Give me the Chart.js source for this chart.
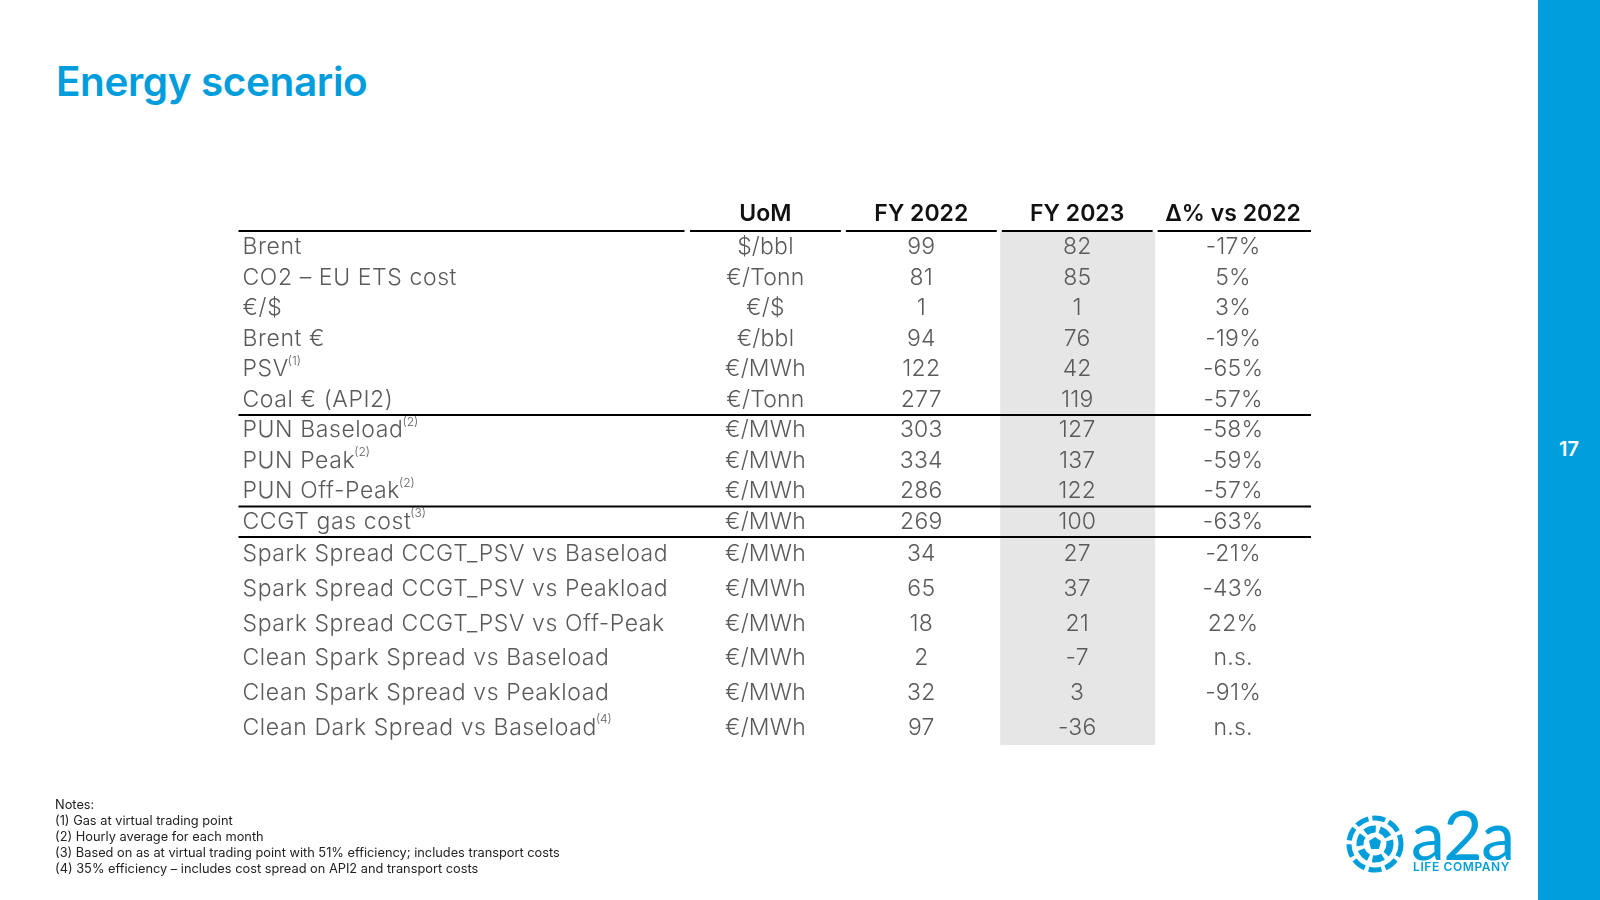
<!DOCTYPE html>
<html lang="en">
<head>
<meta charset="utf-8">
<title>Energy scenario</title>
<script src="https://cdn.jsdelivr.net/npm/chart.js@4.4.1/dist/chart.umd.min.js"></script>
<style>
    html, body { margin: 0; padding: 0; background: #fff; }
    body { width: 1600px; height: 900px; position: relative; overflow: hidden; font-family: Inter, 'Noto Sans', sans-serif; }
    #titulo { position: absolute; left: 56px; top: 56px; margin: 0; font-size: 40.5px; line-height: 52px; font-weight: 600; color: #009ddc; letter-spacing: -0.4px; }
    #tabela { position: absolute; left: 0; top: 0; }
    .faixa { position: absolute; left: 1538px; top: 0; width: 62px; height: 900px; background: #009fdb; }
    .pagina { position: absolute; left: 1538px; width: 62px; top: 436px; text-align: center; color: #fff; font-weight: 600; font-size: 20px; line-height: 26px; }
    .notas { position: absolute; left: 55px; top: 797px; font-size: 12.8px; line-height: 16px; color: #222; }
    .logo { position: absolute; left: 1345px; top: 814px; width: 170px; height: 62px; color: #009fdb; }
    .logo svg { position: absolute; left: 0; top: 0; }
    .logo .marca { position: absolute; left: 66px; top: -14px; font-family: Lato, sans-serif; font-size: 68px; line-height: 68px; letter-spacing: -1.5px; }
    .logo .lema { position: absolute; left: 68px; top: 46px; font-size: 12px; font-weight: 600; letter-spacing: 0.6px; line-height: 14px; }
</style>
</head>
<body>
<h1 id="titulo">Energy scenario</h1>
<canvas id="tabela" width="1600" height="900"></canvas>
<div class="faixa"></div>
<div class="pagina">17</div>
<div class="notas" id="notas"></div>
<div class="logo">
    <svg width="60" height="60" viewBox="0 0 60 60">
        <circle cx="30" cy="30" r="26" fill="none" stroke="#009fdb" stroke-width="5" stroke-dasharray="13 4"/>
        <circle cx="30" cy="30" r="15" fill="none" stroke="#009fdb" stroke-width="7" stroke-dasharray="11 4"/>
        <polygon points="30,23 36,27 34,35 26,35 24,27" fill="#009fdb"/>
    </svg>
    <div class="marca">a2a</div>
    <div class="lema">LIFE COMPANY</div>
</div>
<script>
// Colunas da tabela (eixo x)
const colunas = ['UoM', 'FY 2022', 'FY 2023', 'Δ% vs 2022'];

// Linhas: bloco de preços (em cima) e bloco de spreads (embaixo)
const linhasPrecos = ['Brent', 'CO2 – EU ETS cost', '€/$', 'Brent €', 'PSV', 'Coal € (API2)',
    'PUN Baseload', 'PUN Peak', 'PUN Off-Peak', 'CCGT gas cost'];
const linhasSpreads = ['Spark Spread CCGT_PSV vs Baseload', 'Spark Spread CCGT_PSV vs Peakload',
    'Spark Spread CCGT_PSV vs Off-Peak', 'Clean Spark Spread vs Baseload',
    'Clean Spark Spread vs Peakload', 'Clean Dark Spread vs Baseload'];

// Chamadas de nota ao lado do nome (mesma ordem das linhas)
const chamadasPrecos = ['', '', '', '', '(1)', '', '(2)', '(2)', '(2)', '(3)'];
const chamadasSpreads = ['', '', '', '', '', '(4)'];

// Valores (mesma ordem: preços e depois spreads)
const unidades = ['$/bbl', '€/Tonn', '€/$', '€/bbl', '€/MWh', '€/Tonn', '€/MWh', '€/MWh', '€/MWh', '€/MWh',
    '€/MWh', '€/MWh', '€/MWh', '€/MWh', '€/MWh', '€/MWh'];
const fy2022 = [99, 81, 1, 94, 122, 277, 303, 334, 286, 269, 34, 65, 18, 2, 32, 97];
const fy2023 = [82, 85, 1, 76, 42, 119, 127, 137, 122, 100, 27, 37, 21, -7, 3, -36];
const variacao = [-17, 5, 3, -19, -65, -57, -58, -59, -57, -63, -21, -43, 22, null, -91, null]; // null = n.s.

// Linhas depois das quais vem um traço separador
const separadores = ['Coal € (API2)', 'PUN Off-Peak'];

const notasRodape = [
    'Notes:',
    '(1) Gas at virtual trading point',
    '(2) Hourly average for each month',
    '(3) Based on as at virtual trading point with 51% efficiency; includes transport costs',
    '(4) 35% efficiency – includes cost spread on API2 and transport costs'
];

const CINZA_TEXTO = '#5a5a5a';
const FONTE = "Inter, 'Noto Sans', sans-serif";
const LARGURA_ROTULOS = 449; // coluna dos nomes, à esquerda da área do gráfico

document.addEventListener('DOMContentLoaded', () => {
    document.getElementById('notas').innerHTML = notasRodape.map(n => `<div>${n}</div>`).join('');
    desenharTabela();
});

function montarDatasets() {
    const textos = [
        unidades,
        fy2022.map(v => String(v)),
        fy2023.map(v => String(v)),
        variacao.map(v => v === null ? 'n.s.' : v + '%')
    ];
    const blocos = [
        { eixo: 'yPrecos', linhas: linhasPrecos, inicio: 0 },
        { eixo: 'ySpreads', linhas: linhasSpreads, inicio: linhasPrecos.length }
    ];
    const datasets = [];
    colunas.forEach((col, c) => {
        blocos.forEach(b => {
            datasets.push({
                label: col,
                yAxisID: b.eixo,
                showLine: false,
                pointRadius: 0,
                data: b.linhas.map((linha, i) => ({ x: col, y: linha, texto: textos[c][b.inicio + i] }))
            });
        });
    });
    return datasets;
}

// Plugin que pinta a tabela usando as escalas do Chart.js
const pluginTabela = {
    id: 'tabela',
    beforeDatasetsDraw(chart) {
        const { ctx, chartArea, scales: { x } } = chart;
        const largura = x.getPixelForValue(1) - x.getPixelForValue(0);
        const centro = x.getPixelForValue(colunas.indexOf('FY 2023'));
        ctx.save();
        ctx.fillStyle = '#e6e6e6';
        ctx.fillRect(centro - largura / 2 + 1, chartArea.top, largura - 1, chartArea.bottom - chartArea.top);
        ctx.restore();
    },
    afterDatasetsDraw(chart) {
        const { ctx, chartArea, scales } = chart;
        const x = scales.x;
        const largura = x.getPixelForValue(1) - x.getPixelForValue(0);
        const esquerda = chartArea.left - LARGURA_ROTULOS;

        ctx.save();

        // Cabeçalho
        ctx.fillStyle = '#111';
        ctx.font = `600 23px ${FONTE}`;
        ctx.textAlign = 'center';
        ctx.textBaseline = 'middle';
        x.getLabels().forEach((rotulo, i) => {
            ctx.fillText(rotulo, x.getPixelForValue(i), chartArea.top - 18);
        });

        // Traços do cabeçalho (um por coluna)
        ctx.strokeStyle = '#000';
        ctx.lineWidth = 2;
        const yCab = chartArea.top - 1;
        const tracos = [[esquerda, chartArea.left - 3]];
        x.getLabels().forEach((r, i) => {
            const cx = x.getPixelForValue(i);
            tracos.push([cx - largura / 2 + 2.5, cx + largura / 2 - 2.5]);
        });
        tracos[tracos.length - 1][1] = chartArea.right;
        tracos.forEach(([a, b]) => {
            ctx.beginPath();
            ctx.moveTo(a, yCab);
            ctx.lineTo(b, yCab);
            ctx.stroke();
        });

        // Nomes das linhas com chamadas sobrescritas
        const blocos = [[scales.yPrecos, chamadasPrecos], [scales.ySpreads, chamadasSpreads]];
        ctx.textAlign = 'left';
        ctx.fillStyle = CINZA_TEXTO;
        blocos.forEach(([escala, chamadas]) => {
            escala.getLabels().forEach((nome, i) => {
                const y = escala.getPixelForValue(i);
                ctx.font = `300 23px ${FONTE}`;
                ctx.letterSpacing = '0.6px';
                ctx.fillText(nome, esquerda + 4, y);
                if (chamadas[i]) {
                    const w = ctx.measureText(nome).width;
                    ctx.font = `300 12px ${FONTE}`;
                    ctx.letterSpacing = '0px';
                    ctx.fillText(chamadas[i], esquerda + 4 + w - 1, y - 8);
                }
            });
        });

        // Células
        ctx.textAlign = 'center';
        ctx.font = `300 23px ${FONTE}`;
        ctx.letterSpacing = '0.2px';
        chart.data.datasets.forEach((ds, d) => {
            const meta = chart.getDatasetMeta(d);
            meta.data.forEach((ponto, i) => {
                ctx.fillText(ds.data[i].texto, ponto.x, ponto.y);
            });
        });
        ctx.letterSpacing = '0px';

        // Separadores horizontais
        const linhaCheia = y => {
            ctx.beginPath();
            ctx.moveTo(esquerda, y);
            ctx.lineTo(chartArea.right, y);
            ctx.stroke();
        };
        const yP = scales.yPrecos;
        separadores.forEach(nome => {
            const i = yP.getLabels().indexOf(nome);
            linhaCheia((yP.getPixelForValue(i) + yP.getPixelForValue(i + 1)) / 2);
        });
        linhaCheia(yP.bottom);

        ctx.restore();
    }
};

function desenharTabela() {
    const ctx = document.getElementById('tabela');
    new Chart(ctx, {
        type: 'line',
        data: { datasets: montarDatasets() },
        plugins: [pluginTabela],
        options: {
            responsive: false,
            animation: false,
            events: [],
            layout: { padding: { left: 687.5, right: 289, top: 232, bottom: 155 } },
            plugins: { legend: { display: false }, tooltip: { enabled: false } },
            scales: {
                x: { type: 'category', labels: colunas, offset: true, display: false },
                yPrecos: {
                    type: 'category', labels: linhasPrecos, offset: true, display: false,
                    position: 'right', stack: 'linhas', stackWeight: 10 * 30.5
                },
                ySpreads: {
                    type: 'category', labels: linhasSpreads, offset: true, display: false,
                    position: 'right', stack: 'linhas', stackWeight: 6 * 34.7
                }
            }
        }
    });
}
</script>
</body>
</html>
